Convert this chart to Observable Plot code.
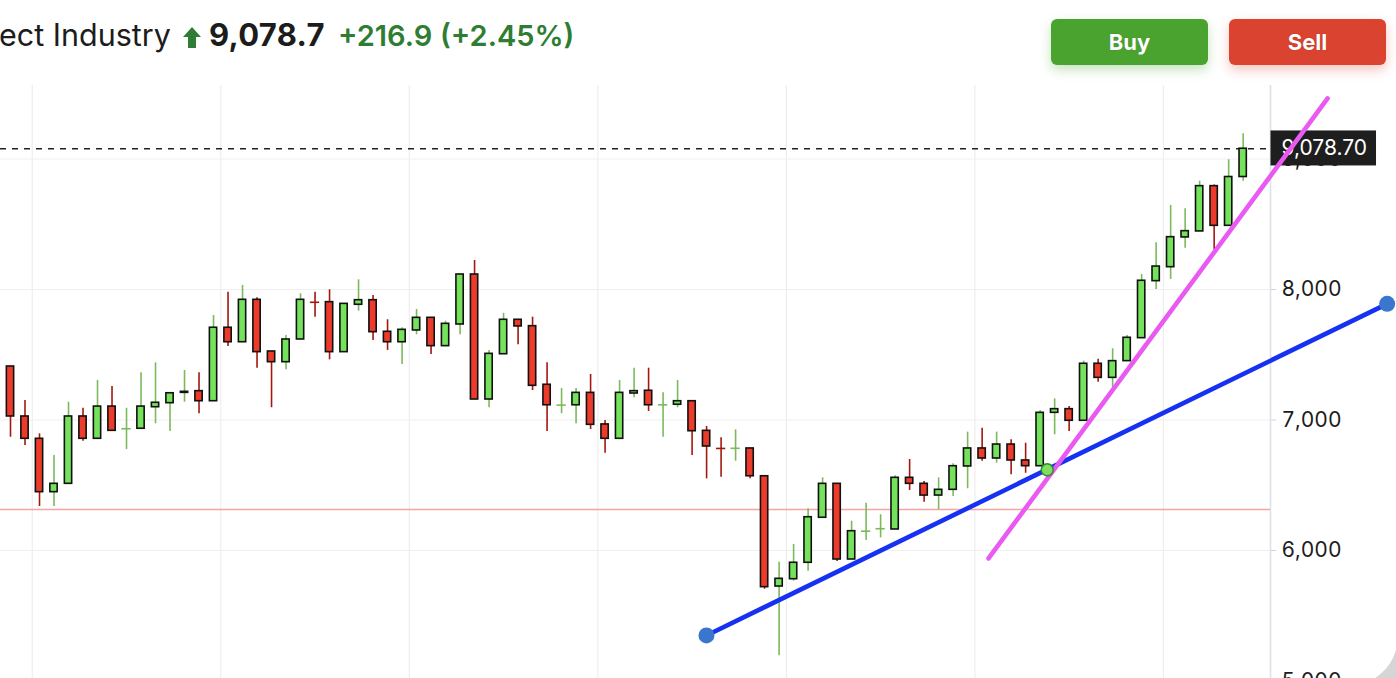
<!DOCTYPE html>
<html>
<head>
<meta charset="utf-8">
<script src="https://cdn.jsdelivr.net/npm/d3@7"></script>
<script src="https://cdn.jsdelivr.net/npm/@observablehq/plot@0.6"></script>
<style>
  html, body { margin: 0; padding: 0; }
  body { width: 1396px; height: 678px; overflow: hidden; position: relative; background: #d5d5d5; font-family: Inter, "Noto Sans", sans-serif; }
  #card { position: absolute; left: -40px; top: -40px; width: 1438px; height: 726px; background: #fff; border-bottom-right-radius: 50px; }
  .hd { position: absolute; top: 21px; font-size: 29px; line-height: 29px; white-space: nowrap; }
  #title { left: -1px; color: #1c1c1c; font-weight: 400; font-size: 30.5px; top: 20px; }
  #price { left: 209px; color: #1c1c1c; font-weight: 700; font-size: 31px; letter-spacing: 0.3px; top: 20px; }
  #chg { left: 338px; color: #2e7d32; font-weight: 600; }
  #pct { left: 440px; color: #2e7d32; font-weight: 600; }
  #arrow { position: absolute; left: 183px; top: 27px; }
  .btn { position: absolute; top: 19px; width: 157px; height: 46px; border-radius: 6px; color: #fff; font-weight: 700; font-size: 22px; line-height: 46px; text-align: center; text-shadow: 0 0 1px rgba(0,0,0,0.35); }
  #buy { left: 1051px; background: #4ba32f; box-shadow: 0 5px 12px rgba(75,163,47,0.30); }
  #sell { left: 1229px; background: #d9432f; box-shadow: 0 5px 12px rgba(217,67,47,0.30); }
  #chart { position: absolute; left: 0; top: 85px; }
</style>
</head>
<body>
<div id="card"></div>
<span class="hd" id="title">ect Industry</span>
<svg id="arrow" width="18" height="21" viewBox="0 0 18 21"><path d="M9 0 L18 10 L13 10 L13 21 L5 21 L5 10 L0 10 Z" fill="#2e7d32"/></svg>
<span class="hd" id="price"></span>
<span class="hd" id="chg"></span>
<span class="hd" id="pct"></span>
<div class="btn" id="buy">Buy</div>
<div class="btn" id="sell">Sell</div>
<div id="chart"></div>
<script>
// Weekly candles (index 0 is the partially visible first candle)
const opens = [7404,7410,7027,6856,6447,6511,7027,6856,7103,6932,6933,7098,7129,7208,7221,7144,7707,7596,7921,7525,7443,7617,7903,7903,7520,7883,7918,7676,7596,7686,7783,7566,7732,8115,7157,7504,7768,7719,7270,7113,7113,7208,6966,6856,7203,7224,7115,7117,7144,6917,6783,6782,6782,6569,5724,5780,5906,6251,6511,5931,6147,6166,6161,6557,6511,6421,6465,6644,6782,6705,6812,6690,6646,7055,7083,6994,7431,7323,7451,7627,8064,8171,8399,8445,8792,8488,8862];
const highs = [7420,7410,7149,6894,6728,7136,7090,7303,7257,7090,7362,7438,7205,7379,7362,7801,7979,8031,7936,7525,7648,7967,7979,7998,7890,8074,7954,7768,7707,7847,7783,7757,8115,8222,7533,7818,7768,7788,7438,7241,7241,7349,6996,7303,7397,7397,7208,7303,7144,6950,6864,6925,6782,6569,5910,6046,6320,6557,6511,6225,6362,6274,6572,6697,6529,6557,6664,6907,6937,6907,6848,6822,7073,7162,7103,7451,7466,7546,7648,8115,8358,8644,8618,8830,8800,8994,9193];
const lows = [7120,6868,6805,6337,6337,6511,6838,6856,6917,6774,6933,6971,6912,7136,7048,7144,7563,7596,7397,7094,7385,7617,7788,7461,7520,7834,7609,7533,7425,7653,7502,7566,7653,7157,7094,7504,7576,7226,6912,7048,6971,6927,6746,6856,7170,7065,6868,7094,6728,6549,6562,6684,6549,5703,5193,5765,5841,6251,5916,5931,6077,6097,6161,6460,6370,6312,6414,6473,6684,6669,6580,6592,6646,6887,6912,6994,7290,7251,7451,7627,8000,8077,8317,8445,8304,8488,8830];
const closes = [7149,7027,6856,6447,6511,7027,6856,7103,6917,6933,7103,7132,7205,7216,7144,7707,7596,7921,7520,7443,7617,7921,7902,7520,7890,7918,7673,7596,7691,7783,7566,7737,8115,7157,7507,7768,7717,7262,7113,7114,7208,6963,6856,7208,7221,7113,7116,7144,6914,6797,6782,6783,6569,5719,5783,5906,6255,6511,5931,6148,6148,6167,6557,6511,6421,6465,6646,6782,6705,6812,6690,6646,7055,7083,6994,7431,7323,7451,7630,8067,8176,8401,8447,8792,8488,8862,9078.7];

const changeAbs = 216.9;
const changePct = 2.45;
const yTicks = [5000, 6000, 7000, 8000, 9000];
const quarterBreaks = [2.5, 15.5, 28.5, 41.5, 54.5, 67.5, 80.5]; // week index of quarter boundaries
const refLevel = 6314;                 // horizontal reference level
const blueTrendIdx = [48.99, 95.93];
const blueTrendVal = [5349, 7890];
const pinkTrendIdx = [68.44, 91.82];
const pinkTrendVal = [5939, 9464];
const anchorIdx = [72.49];
const anchorVal = [6618];

const candles = opens.map((o, i) => ({i, o, h: highs[i], l: lows[i], c: closes[i], up: closes[i] >= o}));
const last = closes[closes.length - 1];
const fmt = d3.format(",");

document.getElementById("price").textContent = d3.format(",.1f")(last);
document.getElementById("chg").textContent = "+" + changeAbs.toFixed(1);
document.getElementById("pct").textContent = "(+" + changePct.toFixed(2) + "%)";

const bodies = candles.filter(d => Math.abs(d.c - d.o) > 3);
const dojis = candles.filter(d => Math.abs(d.c - d.o) <= 3);
const blue = blueTrendIdx.map((i, k) => ({i, v: blueTrendVal[k]}));
const pink = pinkTrendIdx.map((i, k) => ({i, v: pinkTrendVal[k]}));
const anchor = anchorIdx.map((i, k) => ({i, v: anchorVal[k]}));

const upBody = "#74e25a", downBody = "#ec3b2a", upWick = "#7cb95c", downWick = "#a3170f";

const chart = Plot.plot({
  width: 1396,
  height: 593,
  marginLeft: 0,
  marginRight: 126,
  marginTop: 0,
  marginBottom: 0,
  style: {fontFamily: "Inter, 'Noto Sans', sans-serif", fontSize: "21px", color: "#1c1c1c", background: "transparent"},
  x: {domain: [0.31, 87.885], axis: null},
  y: {domain: [5000, 9500], range: [595.5, 8.25], axis: null},
  marks: [
    Plot.gridX(quarterBreaks, {stroke: "#eeeeee", strokeOpacity: 1, strokeWidth: 1.2}),
    Plot.gridY(yTicks, {stroke: "#f0f0f0", strokeOpacity: 1, strokeWidth: 1.2}),
    Plot.frame({anchor: "right", stroke: "#dde1e8", strokeWidth: 1.6}),
    Plot.ruleY([refLevel], {stroke: "#f6a3a3", strokeWidth: 1.7}),
    Plot.ruleY([last], {stroke: "#222", strokeWidth: 1.3, strokeDasharray: "6,6"}),
    Plot.ruleX(candles, {x: "i", y1: "l", y2: "h", stroke: d => d.up ? upWick : downWick, strokeWidth: 1.6}),
    Plot.rect(bodies, {x1: d => d.i - 0.5, x2: d => d.i + 0.5, y1: d => Math.min(d.o, d.c), y2: d => Math.max(d.o, d.c), insetLeft: 3.6, insetRight: 3.6, fill: d => d.up ? upBody : downBody, stroke: "#111", strokeWidth: 1.6}),
    Plot.ruleY(dojis, {x1: d => d.i - 0.32, x2: d => d.i + 0.32, y: "c", stroke: d => d.up ? upWick : downWick, strokeWidth: 1.6}),
    Plot.axisY(yTicks, {anchor: "right", tickSize: 5, tickPadding: 6, tickFormat: fmt, stroke: "#cfd4dc", fill: "#1c1c1c", fontSize: 21}),
    Plot.text([last], {y: d => d, frameAnchor: "right", dx: 11, text: d => d3.format(",.2f")(d), textAnchor: "start", fill: "#fff", fontSize: 21, className: "price-label"}),
    Plot.line(blue, {x: "i", y: "v", stroke: "#1631f2", strokeWidth: 4.6}),
    Plot.line(pink, {x: "i", y: "v", stroke: "#e95af2", strokeWidth: 4.6}),
    Plot.dot(blue, {x: "i", y: "v", r: 8, fill: "#3a77cc", stroke: "none"}),
    Plot.dot(anchor, {x: "i", y: "v", r: 6, fill: "#7ee05e", stroke: "#2f8a2f", strokeWidth: 1.5})
  ]
});
document.getElementById("chart").appendChild(chart);

// dark background box behind the last-price label (same transform as the text)
const lbl = chart.querySelector("g.price-label text");
if (lbl) {
  const bb = lbl.getBBox();
  const cy = bb.y + bb.height / 2;
  const r = document.createElementNS("http://www.w3.org/2000/svg", "rect");
  r.setAttribute("x", bb.x - 11);
  r.setAttribute("y", cy - 17.5);
  r.setAttribute("width", bb.width + 20);
  r.setAttribute("height", 35);
  r.setAttribute("fill", "#1e1e1e");
  const tf = lbl.getAttribute("transform");
  if (tf) r.setAttribute("transform", tf);
  lbl.parentNode.insertBefore(r, lbl);
}
</script>
</body>
</html>
